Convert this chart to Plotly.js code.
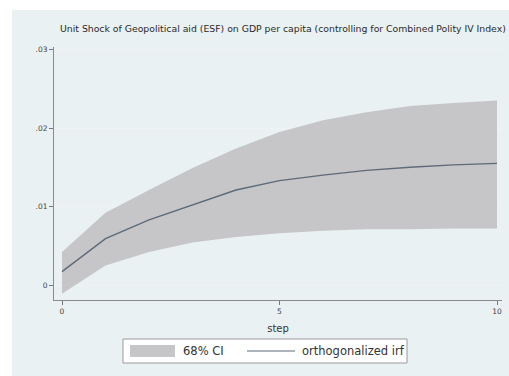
<!DOCTYPE html>
<html>
<head>
<meta charset="utf-8">
<script src="https://cdn.plot.ly/plotly-3.0.1.min.js"></script>
<style>html,body{margin:0;padding:0;background:#fff}#chart{width:509px;height:376px}</style>
</head>
<body>
<div id="chart"></div>
<script>
var steps = [0, 1, 2, 3, 4, 5, 6, 7, 8, 9, 10];
var irf = [0.0017, 0.0059, 0.0083, 0.0102, 0.0121, 0.0133, 0.0140, 0.0146, 0.0150, 0.0153, 0.0155];
var ciUpper = [0.0042, 0.0092, 0.0121, 0.0149, 0.0174, 0.0195, 0.0210, 0.0220, 0.0228, 0.0232, 0.0235];
var ciLower = [-0.0011, 0.0025, 0.0042, 0.0054, 0.0061, 0.0066, 0.0069, 0.0071, 0.0071, 0.0072, 0.0072];
var yTickVals = [0, 0.01, 0.02, 0.03];
var yTickText = ["0", ".01", ".02", ".03"];
var xTickVals = [0, 5, 10];
var xTickText = ["0", "5", "10"];
var titleText = "Unit Shock of Geopolitical aid (ESF) on GDP per capita (controlling for Combined Polity IV Index)";
var legendCI = "68% CI";
var legendIrf = "orthogonalized irf";

var bandColor = "#c6c6c8";
var lineColor = "#5e6a78";
var bgBlue = "#e9f1f3";
var font = "DejaVu Sans, Verdana, sans-serif";

var W = 509, H = 376, L = 54, R = 7, T = 47, B = 76;
var pw = W - L - R, ph = H - T - B;
function px(x) { return (x - L) / pw; }
function py(y) { return (H - B - y) / ph; }

var traces = [
  {x: steps, y: ciUpper, type: "scatter", mode: "lines", line: {width: 0, color: bandColor}, hoverinfo: "skip", showlegend: false},
  {x: steps, y: ciLower, type: "scatter", mode: "lines", fill: "tonexty", fillcolor: bandColor, line: {width: 0, color: bandColor}, name: legendCI, showlegend: false},
  {x: steps, y: irf, type: "scatter", mode: "lines", line: {width: 1.4, color: lineColor}, name: legendIrf, showlegend: false}
];

var layout = {
  width: W, height: H,
  margin: {l: L, r: R, t: T, b: B, pad: 0},
  paper_bgcolor: "#ffffff",
  plot_bgcolor: "#ffffff",
  font: {family: font, color: "#333333", size: 7},
  showlegend: false,
  title: {text: titleText, font: {family: font, size: 9.3, color: "#2a2a2a"}, xref: "paper", x: px(60), xanchor: "left", yref: "container", y: 1 - 29 / H, yanchor: "middle"},
  xaxis: {
    range: [(L - 62) / 43.5, 10 + (W - R - 497) / 43.5],
    tickvals: xTickVals, ticktext: xTickText,
    ticks: "outside", ticklen: 4, tickcolor: "#777", tickwidth: 1,
    showline: true, linecolor: "#8a8a8a", linewidth: 1,
    showgrid: false, zeroline: false,
    tickfont: {family: font, size: 7.5, color: "#444"},
    title: {text: "step", font: {family: font, size: 10, color: "#333"}, standoff: 9}
  },
  yaxis: {
    range: [-(300 - 285) / 7850, (285 - 47) / 7850],
    tickvals: yTickVals, ticktext: yTickText,
    ticks: "outside", ticklen: 4, tickcolor: "#777", tickwidth: 1,
    showline: true, linecolor: "#8a8a8a", linewidth: 1,
    showgrid: true, gridcolor: "#eef3f4", gridwidth: 1, zeroline: false,
    tickfont: {family: font, size: 7.5, color: "#444"}
  },
  shapes: [
    {type: "rect", xref: "paper", yref: "paper", layer: "below", x0: px(12), x1: px(W), y0: py(10), y1: py(H), fillcolor: bgBlue, line: {width: 0}},
    {type: "rect", xref: "paper", yref: "paper", x0: px(123), x1: px(407), y0: py(339), y1: py(363), fillcolor: "#ffffff", line: {color: "#9a9a9a", width: 1}, layer: "below"},
    {type: "rect", xref: "paper", yref: "paper", x0: px(130), x1: px(175), y0: py(345), y1: py(357), fillcolor: bandColor, line: {width: 0}},
    {type: "line", xref: "paper", yref: "paper", x0: px(247), x1: px(295), y0: py(351), y1: py(351), line: {color: lineColor, width: 1.2}}
  ],
  annotations: [
    {xref: "paper", yref: "paper", x: px(181), y: py(351), text: legendCI, showarrow: false, xanchor: "left", yanchor: "middle", font: {family: font, size: 11.5, color: "#333"}},
    {xref: "paper", yref: "paper", x: px(300), y: py(351), text: legendIrf, showarrow: false, xanchor: "left", yanchor: "middle", font: {family: font, size: 11.5, color: "#333"}}
  ]
};

Plotly.newPlot("chart", traces, layout, {staticPlot: true, displayModeBar: false});
</script>
</body>
</html>
